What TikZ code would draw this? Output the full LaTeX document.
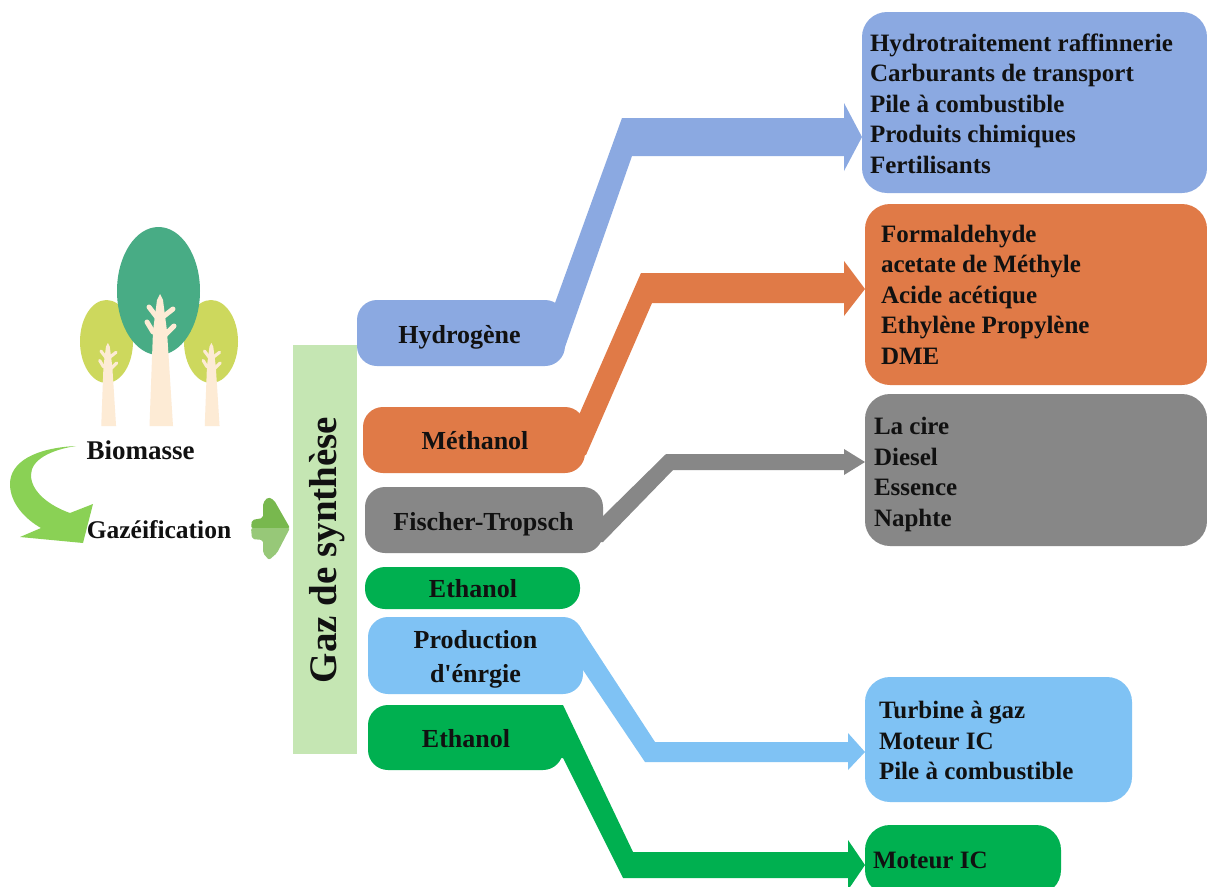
\documentclass[tikz,border=0pt]{standalone}
\usepackage{fontspec}
\setmainfont{Liberation Serif}[Ligatures=TeXOff]
\definecolor{cblue}{HTML}{8BA9E1}
\definecolor{corange}{HTML}{E07A47}
\definecolor{cgray}{HTML}{878787}
\definecolor{cgreen}{HTML}{00B050}
\definecolor{clight}{HTML}{7FC2F4}
\definecolor{cbar}{HTML}{C5E6B3}
\definecolor{ctree}{HTML}{48AC85}
\definecolor{cleaf}{HTML}{CDD85D}
\definecolor{ctrunk}{HTML}{FDEBD5}
\definecolor{ccurve}{HTML}{8AD155}
\definecolor{carrowa}{HTML}{78B84E}
\definecolor{carrowb}{HTML}{97C878}
\definecolor{ctext}{HTML}{111111}
\tikzset{
  txt/.style={font=\bfseries\fontsize{25.5}{30.5}\selectfont,text=ctext,inner sep=0pt,outer sep=0pt},
  boxa/.style={rectangle,rounded corners=20pt,inner sep=0pt,outer sep=0pt},
  boxb/.style={rectangle,rounded corners=25pt,inner sep=0pt,outer sep=0pt},
  srctxt/.style={align=center,inner sep=0pt,outer sep=0pt,text=ctext,font=\bfseries\fontsize{26}{34}\selectfont},
  tgttxt/.style={anchor=west,align=left,inner sep=0pt,outer sep=0pt,text=ctext,font=\bfseries\fontsize{25}{30.5}\selectfont},
}
\begin{document}
\begin{tikzpicture}[x=1pt,y=-1pt]
\clip (0,0) rectangle (1207,886);
\fill[white] (0,0) rectangle (1207,886);
% trees
\fill[cleaf] (106.5,341.5) ellipse [x radius=26.5,y radius=41.5];
\fill[cleaf] (211,341.5) ellipse [x radius=27,y radius=41.5];
\fill[ctree] (158.5,291) ellipse [x radius=41.5,y radius=64];
\foreach \tx/\ty/\ts in {161/426/1,108.5/426/0.63,212/426/0.63}{
  \begin{scope}[shift={(\tx,\ty)},scale=\ts]
    \fill[ctrunk] (-11.5,0) -- (-8,-95) -- (-4,-126) -- (-1,-132) -- (2,-126) -- (6,-95) -- (12,0) -- cycle;
    \draw[ctrunk,line width=5pt*\ts,line cap=round]
      (-2,-106) -- (-12,-119)
      (-2,-106) -- (12,-117)
      (-8,-94) -- (-14,-104)
      (4,-91) -- (13,-100);
  \end{scope}
}
% curved arrow
\fill[ccurve] (76,446) .. controls (35,448) and (10,462) .. (10,484)
  .. controls (10,503) and (25,519) .. (41,528) -- (20,537) -- (83,543) -- (93,504) -- (70,513)
  .. controls (50,506) and (31,492) .. (31,475) .. controls (31,460) and (50,450) .. (76,446) -- cycle;
% small arrow
\fill[carrowa,rounded corners=2pt] (251,528) -- (252,520) -- (263,518) -- (263,503) -- (268,497) -- (274,500) -- (290,528) -- cycle;
\fill[carrowb,rounded corners=2pt] (251,528) -- (252,539) -- (263,540) -- (263,553) -- (269,560) -- (277,553) -- (290,528) -- cycle;
% labels
\node[txt,font=\bfseries\fontsize{27}{30.5}\selectfont] (bio) at (140.5,450) {Biomasse};
\node[txt] (gazf) at (159,530) {Gazéification};
% bar
\node[rectangle,fill=cbar,minimum width=64pt,minimum height=409pt,inner sep=0pt,outer sep=0pt] (bar) at (325,549.5) {};
\node[rotate=90,font=\bfseries\fontsize{39}{42}\selectfont,text=ctext,inner sep=0pt] (barlab) at (327,550) {Gaz de synthèse};
% source nodes
\node[boxa,fill=cblue,minimum width=208pt,minimum height=66pt] (hyd) at (461,333) {};
\node[boxa,fill=corange,minimum width=222pt,minimum height=66pt] (met) at (474,440) {};
\node[boxa,fill=cgray,minimum width=238pt,minimum height=66pt] (ft) at (484,520) {};
\node[boxa,fill=cgreen,minimum width=215pt,minimum height=42pt] (etha) at (472.5,588) {};
\node[boxa,fill=clight,minimum width=215pt,minimum height=77pt] (prod) at (475.5,655.5) {};
\node[boxa,fill=cgreen,minimum width=195pt,minimum height=65pt] (ethb) at (465.5,737.5) {};
% target nodes
\node[boxb,fill=cblue,minimum width=345pt,minimum height=181pt] (thyd) at (1034.5,102.5) {};
\node[boxb,fill=corange,minimum width=342pt,minimum height=181pt] (tmet) at (1036,294.5) {};
\node[boxb,fill=cgray,minimum width=342pt,minimum height=152pt] (tft) at (1036,470) {};
\node[boxb,fill=clight,minimum width=267pt,minimum height=125pt] (tprod) at (998.5,739.5) {};
\node[boxb,fill=cgreen,minimum width=196pt,minimum height=70pt] (teth) at (963,860) {};
% connectors
\fill[cblue] ([xshift=-30pt,yshift=-3pt]hyd.north east) -- ([xshift=-10pt,yshift=-3pt]hyd.north east) -- (622,118) -- (844,118) -- (844,103)
  -- ([yshift=-34.5pt]thyd.west) -- (844,171) -- (844,156) -- (632,156) -- ([yshift=-14pt]hyd.east) -- ([xshift=-30pt,yshift=-14pt]hyd.east) -- cycle;
\fill[corange] ([xshift=-30pt,yshift=-7pt]met.north east) -- ([xshift=-5.6pt,yshift=-7pt]met.north east) -- (641,273) -- (844,273) -- (844,261)
  -- ([yshift=5.5pt]tmet.west) -- (844,316) -- (844,303) -- (652,303) -- ([xshift=1pt,yshift=-15pt]met.east) -- ([xshift=-30pt,yshift=-15pt]met.east) -- cycle;
\fill[cgray] ([xshift=-20pt,yshift=3pt]ft.east) -- ([xshift=-1pt,yshift=3pt]ft.east) -- (666,454) -- (844,454) -- (844,449)
  -- ([yshift=8pt]tft.west) -- (844,475) -- (844,470) -- (673,470) -- ([xshift=0pt,yshift=-22pt]ft.east) -- ([xshift=-20pt,yshift=-22pt]ft.east) -- cycle;
\fill[clight] ([xshift=-30pt,yshift=-10pt]prod.north east) -- ([xshift=-3pt,yshift=-10pt]prod.north east) -- (655,742) -- (848,742) -- (848,733)
  -- ([yshift=-12.5pt]tprod.west) -- (848,770) -- (848,762) -- (645,762) -- ([yshift=-14.5pt]prod.east) -- ([xshift=-30pt,yshift=-14.5pt]prod.east) -- cycle;
\fill[cgreen] ([xshift=-30pt]ethb.north east) -- (ethb.north east) -- (633,852) -- (848,852) -- (848,840)
  -- ([yshift=-5pt]teth.west) -- (848,890) -- (848,878) -- (623,878) -- ([yshift=-20.5pt]ethb.east) -- ([xshift=-30pt,yshift=-20.5pt]ethb.east) -- cycle;
% source texts
\node[srctxt] (hydt) at (459.5,337) {Hydrogène};
\node[srctxt] (mett) at (475,441) {Méthanol};
\node[srctxt] (ftt) at (483.5,524) {Fischer-Tropsch};
\node[srctxt] (ethat) at (473,589) {Ethanol};
\node[srctxt] (prodt) at (475.5,659.5) {Production\\d'énrgie};
\node[srctxt] (ethbt) at (466,738.5) {Ethanol};
% target texts
\node[tgttxt] (thydt) at (870,103.5) {Hydrotraitement raffinnerie\\Carburants de transport\\Pile à combustible\\Produits chimiques\\Fertilisants};
\node[tgttxt] (tmett) at (881,294.5) {Formaldehyde\\acetate de Méthyle\\Acide acétique\\Ethylène Propylène\\DME};
\node[tgttxt] (tftt) at (874,474.5) {La cire\\Diesel\\Essence\\Naphte};
\node[tgttxt] (tprodt) at (879,740.5) {Turbine à gaz\\Moteur IC\\Pile à combustible};
\node[tgttxt] (tetht) at (873,860) {Moteur IC};
\end{tikzpicture}
\end{document}
